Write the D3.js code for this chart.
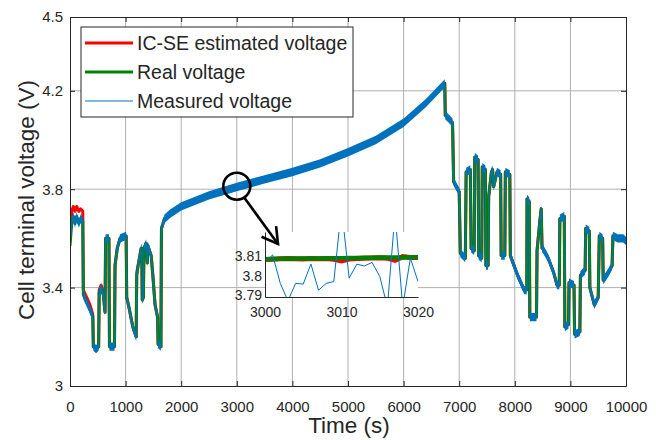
<!DOCTYPE html>
<html>
<head>
<meta charset="utf-8">
<script src="https://cdn.jsdelivr.net/npm/d3@7"></script>
<style>
body { margin: 0; background: #fff; }
text { font-family: "Liberation Sans", Arial, sans-serif; fill: #262626; }
</style>
</head>
<body>
<div id="chart"></div>
<script>
// real terminal voltage, breakpoints (s, V)
const timeS = [0, 30, 60, 90, 120, 160, 190, 230, 240, 300, 360, 410, 420, 470, 515, 525, 560, 585, 600, 630, 640, 700, 710, 800, 810, 850, 900, 1010,
    1020, 1060, 1130, 1190, 1200, 1210, 1280, 1290, 1300, 1320, 1330, 1370, 1390, 1400, 1460, 1490, 1530, 1575, 1585, 1635, 1645,
    1700, 1800, 2000, 2500, 3000, 3500, 4000, 4500, 5000, 5500, 6000, 6400, 6740,
    6750, 6800, 6880, 6900, 7000, 7020, 7110, 7125, 7200, 7215, 7270, 7280, 7340, 7350, 7405, 7415, 7470, 7480, 7520, 7530, 7580, 7600, 7620, 7680, 7745,
    7755, 7820, 7830, 7910, 7920, 8050, 8170, 8215, 8220, 8260, 8270, 8390, 8400, 8450, 8475, 8490, 8500, 8600, 8700, 8760, 8800, 8810, 8890,
    8900, 8965, 8975, 9065, 9075, 9170, 9180, 9265, 9275, 9340, 9350, 9430, 9500, 9520, 9580, 9590, 9680, 9750, 9765, 9850, 9950, 10000];
const realV = [3.57, 3.66, 3.69, 3.66, 3.69, 3.66, 3.68, 3.67, 3.37, 3.34, 3.31, 3.28, 3.16, 3.15, 3.16, 3.38, 3.40, 3.38, 3.37, 3.30, 3.60, 3.60, 3.16, 3.16, 3.49, 3.56, 3.60, 3.61,
    3.36, 3.32, 3.24, 3.20, 3.45, 3.47, 3.56, 3.56, 3.35, 3.36, 3.56, 3.58, 3.50, 3.57, 3.53, 3.45, 3.33, 3.28, 3.17, 3.16, 3.64,
    3.68, 3.70, 3.73, 3.775, 3.809, 3.84, 3.87, 3.905, 3.95, 4.00, 4.07, 4.15, 4.23,
    4.10, 4.09, 4.07, 3.83, 3.79, 3.54, 3.52, 3.87, 3.88, 3.56, 3.55, 3.93, 3.92, 3.53, 3.52, 3.89, 3.88, 3.49, 3.49, 3.77, 3.87, 3.88, 3.81, 3.87, 3.86,
    3.53, 3.53, 3.87, 3.86, 3.53, 3.45, 3.39, 3.39, 3.76, 3.75, 3.28, 3.28, 3.55, 3.67, 3.72, 3.56, 3.56, 3.52, 3.46, 3.41, 3.41, 3.68, 3.69,
    3.24, 3.25, 3.42, 3.41, 3.21, 3.22, 3.45, 3.47, 3.64, 3.63, 3.40, 3.33, 3.36, 3.61, 3.60, 3.43, 3.46, 3.49, 3.61, 3.60, 3.60, 3.59];

// IC-SE estimate: only the first part differs from the real voltage
const estTimeHead = [0, 30, 60, 90, 120, 160, 190, 230, 240, 300, 360, 410, 420, 470, 515, 525, 560, 585, 600];
const estVHead = [3.60, 3.71, 3.73, 3.71, 3.73, 3.71, 3.72, 3.71, 3.39, 3.36, 3.33, 3.29, 3.16, 3.15, 3.16, 3.39, 3.41, 3.39, 3.37];

// zoomed window
const insetTime = [3000, 3001, 3002, 3003, 3004, 3005, 3006, 3007, 3008, 3009, 3010, 3011, 3012, 3013, 3014, 3015, 3016, 3017, 3018, 3019, 3020];
const insetMeasured = [3.8068, 3.8107, 3.796, 3.787, 3.796, 3.7957, 3.806, 3.7925, 3.796, 3.797, 3.835, 3.7987, 3.8059, 3.805, 3.8068, 3.7996, 3.784, 3.832, 3.784, 3.809, 3.797];
const insetReal = [3.8085, 3.8086, 3.8087, 3.8087, 3.8088, 3.8088, 3.8089, 3.8089, 3.809, 3.809, 3.809, 3.8091, 3.8091, 3.8092, 3.8092, 3.8093, 3.8093, 3.8094, 3.8094, 3.8095, 3.8095];
const insetEst = [3.8083, 3.8085, 3.8087, 3.8089, 3.8087, 3.8086, 3.8088, 3.8087, 3.8088, 3.8084, 3.8076, 3.8086, 3.8089, 3.8090, 3.8091, 3.8092, 3.8090, 3.8079, 3.8098, 3.8094, 3.8093];

const xTicks = [0, 1000, 2000, 3000, 4000, 5000, 6000, 7000, 8000, 9000, 10000];
const yTicks = [3, 3.4, 3.8, 4.2, 4.5];
const yGrid = [3.4, 3.8, 4.2];
const insetXTicks = [3000, 3010, 3020];
const insetYTicks = [3.79, 3.8, 3.81];
const seriesNames = ["IC-SE estimated voltage", "Real voltage", "Measured voltage"];

const colors = { est: "#ff0000", real: "#008000", meas: "#0072bd" };
const noiseV = 0.017; // half width of the measurement noise band

const width = 656, height = 440;
const plot = { left: 70, right: 626, top: 17, bottom: 386 };

const real = timeS.map((t, i) => ({ t: t, v: realV[i] }));
const lastHead = estTimeHead[estTimeHead.length - 1];
const estimated = estTimeHead.map((t, i) => ({ t: t, v: estVHead[i] }))
    .concat(real.filter(d => d.t > lastHead));

const x = d3.scaleLinear().domain([0, 10000]).range([plot.left, plot.right]);
const y = d3.scaleLinear().domain([3, 4.5]).range([plot.bottom, plot.top]);

const svg = d3.select("#chart").append("svg").attr("width", width).attr("height", height);

svg.append("defs").append("clipPath").attr("id", "plotClip")
    .append("rect").attr("x", plot.left).attr("y", plot.top)
    .attr("width", plot.right - plot.left).attr("height", plot.bottom - plot.top);

// grid
const gridG = svg.append("g").attr("stroke", "#b0b0b0").attr("stroke-width", 1);
gridG.selectAll("line.vg").data(xTicks.slice(1, -1)).join("line")
    .attr("x1", d => x(d)).attr("x2", d => x(d)).attr("y1", plot.top).attr("y2", plot.bottom);
gridG.selectAll("line.hg").data(yGrid).join("line")
    .attr("x1", plot.left).attr("x2", plot.right).attr("y1", d => y(d)).attr("y2", d => y(d));

// series
const dataG = svg.append("g").attr("clip-path", "url(#plotClip)");
const line = d3.line().x(d => x(d.t)).y(d => y(d.v));
const band = d3.area().x(d => x(d.t)).y0(d => y(d.v - noiseV)).y1(d => y(d.v + noiseV));

dataG.append("path").attr("d", line(estimated)).attr("fill", "none")
    .attr("stroke", colors.est).attr("stroke-width", 3).attr("stroke-linejoin", "round");
dataG.append("path").attr("d", line(real)).attr("fill", "none")
    .attr("stroke", colors.real).attr("stroke-width", 3).attr("stroke-linejoin", "round");
dataG.append("path").attr("d", band(real)).attr("fill", colors.meas);
dataG.append("path").attr("d", line(real)).attr("fill", "none")
    .attr("stroke", colors.meas).attr("stroke-width", 1);

// axes (inward ticks, box)
const fmt = d => String(d);
const axisStyle = g => {
    g.select(".domain").attr("stroke", "#262626");
    g.selectAll(".tick line").attr("stroke", "#262626");
    g.selectAll("text").attr("fill", "#262626").style("font-size", "15px")
        .style("font-family", '"Liberation Sans", Arial, sans-serif');
};
svg.append("g").attr("transform", `translate(0,${plot.bottom})`)
    .call(d3.axisBottom(x).tickValues(xTicks).tickFormat(fmt).tickSize(-5).tickSizeOuter(0).tickPadding(15))
    .call(axisStyle);
svg.append("g").attr("transform", `translate(0,${plot.top})`)
    .call(d3.axisTop(x).tickValues(xTicks).tickFormat("").tickSize(-5).tickSizeOuter(0))
    .call(axisStyle);
svg.append("g").attr("transform", `translate(${plot.left},0)`)
    .call(d3.axisLeft(y).tickValues(yTicks).tickFormat(fmt).tickSize(-5).tickSizeOuter(0).tickPadding(7))
    .call(axisStyle);
svg.append("g").attr("transform", `translate(${plot.right},0)`)
    .call(d3.axisRight(y).tickValues(yTicks).tickFormat("").tickSize(-5).tickSizeOuter(0))
    .call(axisStyle);

svg.append("text").attr("x", 349).attr("y", 433).attr("text-anchor", "middle")
    .style("font-size", "22.5px").text("Time (s)");
svg.append("text").attr("transform", "translate(34,200) rotate(-90)").attr("text-anchor", "middle")
    .style("font-size", "22.5px").text("Cell terminal voltage (V)");

// circle + arrow pointing to the zoomed window
const cx = x(3000), cy = y(3.812), r = 13.5;
const annG = svg.append("g").attr("stroke", "#000").attr("stroke-width", 2.6).attr("fill", "none");
annG.append("circle").attr("cx", cx).attr("cy", cy).attr("r", r);
const ang = 57 * Math.PI / 180;
const start = [cx + r * Math.cos(ang), cy + r * Math.sin(ang)];
const tip = [278, 244];

// inset
const ins = { left: 265, right: 418, top: 232, bottom: 297 };
const xi = d3.scaleLinear().domain([3000, 3020]).range([ins.left, ins.right]);
const yi = d3.scaleLinear().domain([3.789, 3.8225]).range([ins.bottom, ins.top]);
svg.select("defs").append("clipPath").attr("id", "insetClip")
    .append("rect").attr("x", ins.left).attr("y", ins.top)
    .attr("width", ins.right - ins.left).attr("height", ins.bottom - ins.top);
const insG = svg.append("g");
insG.append("rect").attr("x", ins.left).attr("y", ins.top)
    .attr("width", ins.right - ins.left).attr("height", ins.bottom - ins.top).attr("fill", "#fff");
const insData = insG.append("g").attr("clip-path", "url(#insetClip)");
const lineI = d3.line().x(d => xi(d.t)).y(d => yi(d.v));
const toPts = vals => insetTime.map((t, i) => ({ t: t, v: vals[i] }));
insData.append("path").attr("d", lineI(toPts(insetEst))).attr("fill", "none")
    .attr("stroke", colors.est).attr("stroke-width", 5);
insData.append("path").attr("d", lineI(toPts(insetReal))).attr("fill", "none")
    .attr("stroke", colors.real).attr("stroke-width", 4.5);
insData.append("path").attr("d", lineI(toPts(insetMeasured))).attr("fill", "none")
    .attr("stroke", colors.meas).attr("stroke-width", 1);

const insAxis = g => {
    g.select(".domain").attr("stroke", "#262626");
    g.selectAll(".tick line").remove();
    g.selectAll("text").attr("fill", "#262626").style("font-size", "14px")
        .style("font-family", '"Liberation Sans", Arial, sans-serif');
};
insG.append("g").attr("transform", `translate(0,${ins.bottom})`)
    .call(d3.axisBottom(xi).tickValues(insetXTicks).tickFormat(fmt).tickSize(0).tickPadding(10))
    .call(insAxis);
insG.append("g").attr("transform", `translate(${ins.left},0)`)
    .call(d3.axisLeft(yi).tickValues(insetYTicks).tickFormat(fmt).tickSize(0).tickPadding(3))
    .call(insAxis);

// arrow drawn over the inset corner
const dir = Math.atan2(tip[1] - start[1], tip[0] - start[0]);
const headLen = 18, headAng = 30 * Math.PI / 180;
const h1 = [tip[0] - headLen * Math.cos(dir - headAng), tip[1] - headLen * Math.sin(dir - headAng)];
const h2 = [tip[0] - headLen * Math.cos(dir + headAng), tip[1] - headLen * Math.sin(dir + headAng)];
const arrowG = svg.append("g").attr("stroke", "#000").attr("stroke-width", 2.6).attr("fill", "none");
arrowG.append("line").attr("x1", start[0]).attr("y1", start[1]).attr("x2", tip[0]).attr("y2", tip[1]);
arrowG.append("path").attr("d", `M${h1}L${tip}L${h2}`).attr("stroke-linejoin", "miter");

// legend
const legendG = svg.append("g").attr("transform", "translate(81,27)");
legendG.append("rect").attr("width", 272).attr("height", 90)
    .attr("fill", "#fff").attr("stroke", "#262626").attr("stroke-width", 1);
const legendColors = [colors.est, colors.real, colors.meas];
const legendWidths = [3, 3, 1];
const item = legendG.selectAll("g.item").data(seriesNames).join("g")
    .attr("class", "item").attr("transform", (d, i) => `translate(0,${16 + i * 29})`);
item.append("line").attr("x1", 4).attr("x2", 52).attr("stroke", (d, i) => legendColors[i])
    .attr("stroke-width", (d, i) => legendWidths[i]);
item.append("text").attr("x", 56).attr("y", 7).style("font-size", "19.5px").text(d => d);
</script>
</body>
</html>
